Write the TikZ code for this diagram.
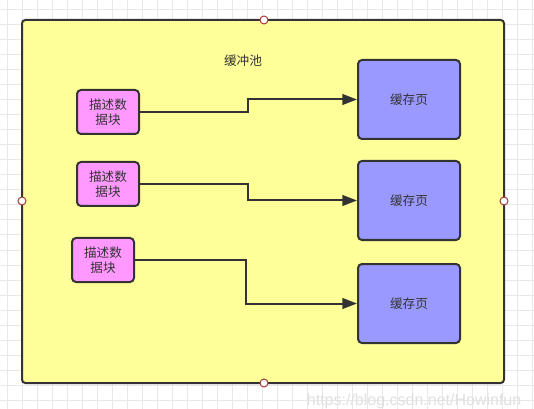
\documentclass[tikz,border=0pt]{standalone}
\usepackage{fontspec}
\setmainfont{Liberation Sans}
\newfontfamily\cjk{Noto Sans CJK SC}
\usetikzlibrary{arrows.meta}
\definecolor{ink}{HTML}{333333}
\definecolor{pool}{HTML}{FFFF99}
\definecolor{desc}{HTML}{FF99FF}
\definecolor{page}{HTML}{9999FF}
\definecolor{gridc}{HTML}{E8E8E8}
\definecolor{handle}{HTML}{A33A3A}

\begin{document}
\begin{tikzpicture}[x=0.75pt,y=-0.75pt,font=\cjk\fontsize{9.5}{11.5}\selectfont,
  gridline/.style={draw=gridc,line width=0.75pt},
  poolbox/.style={fill=pool,draw=ink,line width=1.5pt,rounded corners=2.5pt},
  descbox/.style={fill=desc,draw=ink,line width=1.5pt,rounded corners=3pt,minimum width=46.5pt,minimum height=33pt,inner sep=0pt,align=center,text=ink},
  pagebox/.style={fill=page,draw=ink,line width=1.5pt,rounded corners=3pt,minimum width=76.5pt,minimum height=59.25pt,inner sep=0pt,text=ink},
  flow/.style={draw=ink,line width=1.5pt,-{Triangle[length=11pt,width=8pt]}},
  knob/.style={circle,fill=white,draw=handle,line width=0.75pt,minimum size=6pt,inner sep=0pt}]
\useasboundingbox (0,0) rectangle (534,409);
\fill[white] (0,0) rectangle (534,409);
% background grid
\foreach \gx in {7,22,...,532} \draw[gridline] (\gx,0) -- (\gx,409);
\foreach \gy in {10,25,...,409} \draw[gridline] (0,\gy) -- (534,\gy);
% pool
\draw[poolbox] (22,20) rectangle (504,383);
\node[text=ink] (title) at (243,61) {缓冲池};
\node[descbox] (desc1) at (108,112) {描述数\\据块};
\node[descbox] (desc2) at (108,184) {描述数\\据块};
\node[descbox] (desc3) at (103,260) {描述数\\据块};
\node[pagebox] (page1) at (409,99.5) {缓存页};
\node[pagebox] (page2) at (409,200.5) {缓存页};
\node[pagebox] (page3) at (409,303.5) {缓存页};
\coordinate (k1) at (248,0);
\coordinate (k3) at (246,0);
\draw[flow] (desc1.east) -- (desc1.east -| k1) |- (page1.west);
\draw[flow] (desc2.east) -- (desc2.east -| k1) |- (page2.west);
\draw[flow] (desc3.east) -- (desc3.east -| k3) |- (page3.west);
% handles
\node[knob] (hn) at (264,20) {};
\node[knob] (hs) at (264,383) {};
\node[knob] (hw) at (22,201) {};
\node[knob] (he) at (504,201) {};
% watermark
\node[font=\fontsize{12}{14}\selectfont,text=black!12,anchor=east] (mark) at (526,401) {https://blog.csdn.net/Howinfun};
\end{tikzpicture}
\end{document}
